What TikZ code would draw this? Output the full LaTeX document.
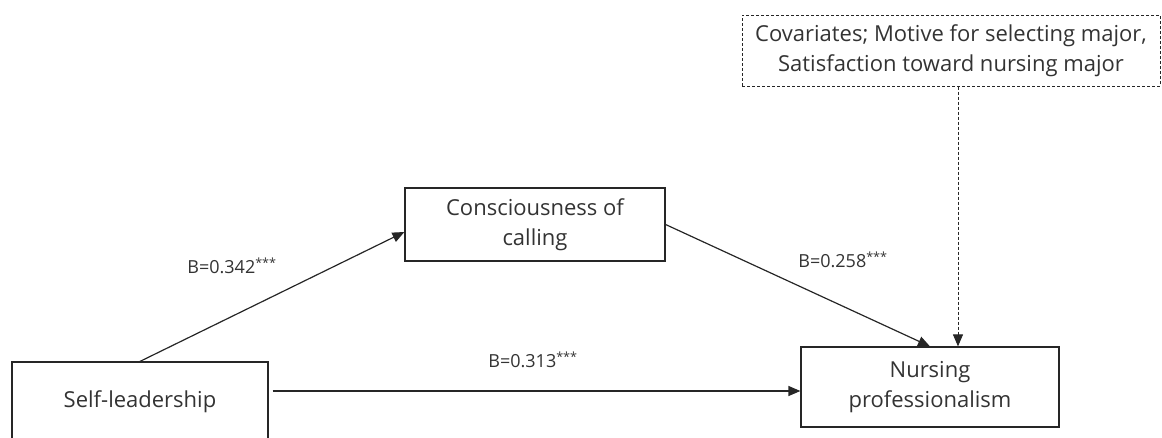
\documentclass[tikz,border=0pt]{standalone}
\usepackage{fontspec}
\setmainfont{Open Sans}
\usetikzlibrary{arrows.meta}
\begin{document}
\begin{tikzpicture}[x=1pt,y=-1pt,
  box/.style={draw=black!85, line width=1.2pt, align=center, inner sep=0pt,
    font=\fontsize{22}{30}\selectfont, text=black!80},
  lbl/.style={font=\fontsize{18}{22}\selectfont, text=black!80, inner sep=0pt},
  conn/.style={draw=black!85, line width=1.2pt, -{Triangle[length=12pt,width=10pt]}},
  dconn/.style={conn, dashed, dash pattern=on 3pt off 2pt}]
\useasboundingbox (0,0) rectangle (1162,437);
\node[box, minimum width=256, minimum height=80] (self) at (140,402) {Self-leadership};
\node[box, minimum width=260, minimum height=73] (cons) at (535,224.5) {Consciousness of\\calling};
\node[box, minimum width=258, minimum height=80] (nurs) at (930,387) {Nursing\\professionalism};
\node[box, dashed, dash pattern=on 3pt off 2pt, line width=1pt, minimum width=418, minimum height=71] (cov) at (951,50.5) {Covariates; Motive for selecting major,\\Satisfaction toward nursing major};
\draw[conn] (self.north) -- ([yshift=-7.5pt]cons.west);
\draw[conn] (cons.east) -- (nurs.north);
\draw[conn, shorten <=4pt] ([yshift=11pt]self.east) -- ([yshift=-4pt]nurs.west);
\draw[dconn, line width=1pt] ([xshift=7pt]cov.south) -- ([xshift=28pt]nurs.north);
\node[lbl] (l1) at (232,266) {B=0.342\textsuperscript{***}};
\node[lbl] (l2) at (843,260) {B=0.258\textsuperscript{***}};
\node[lbl] (l3) at (533,360) {B=0.313\textsuperscript{***}};
\end{tikzpicture}
\end{document}
